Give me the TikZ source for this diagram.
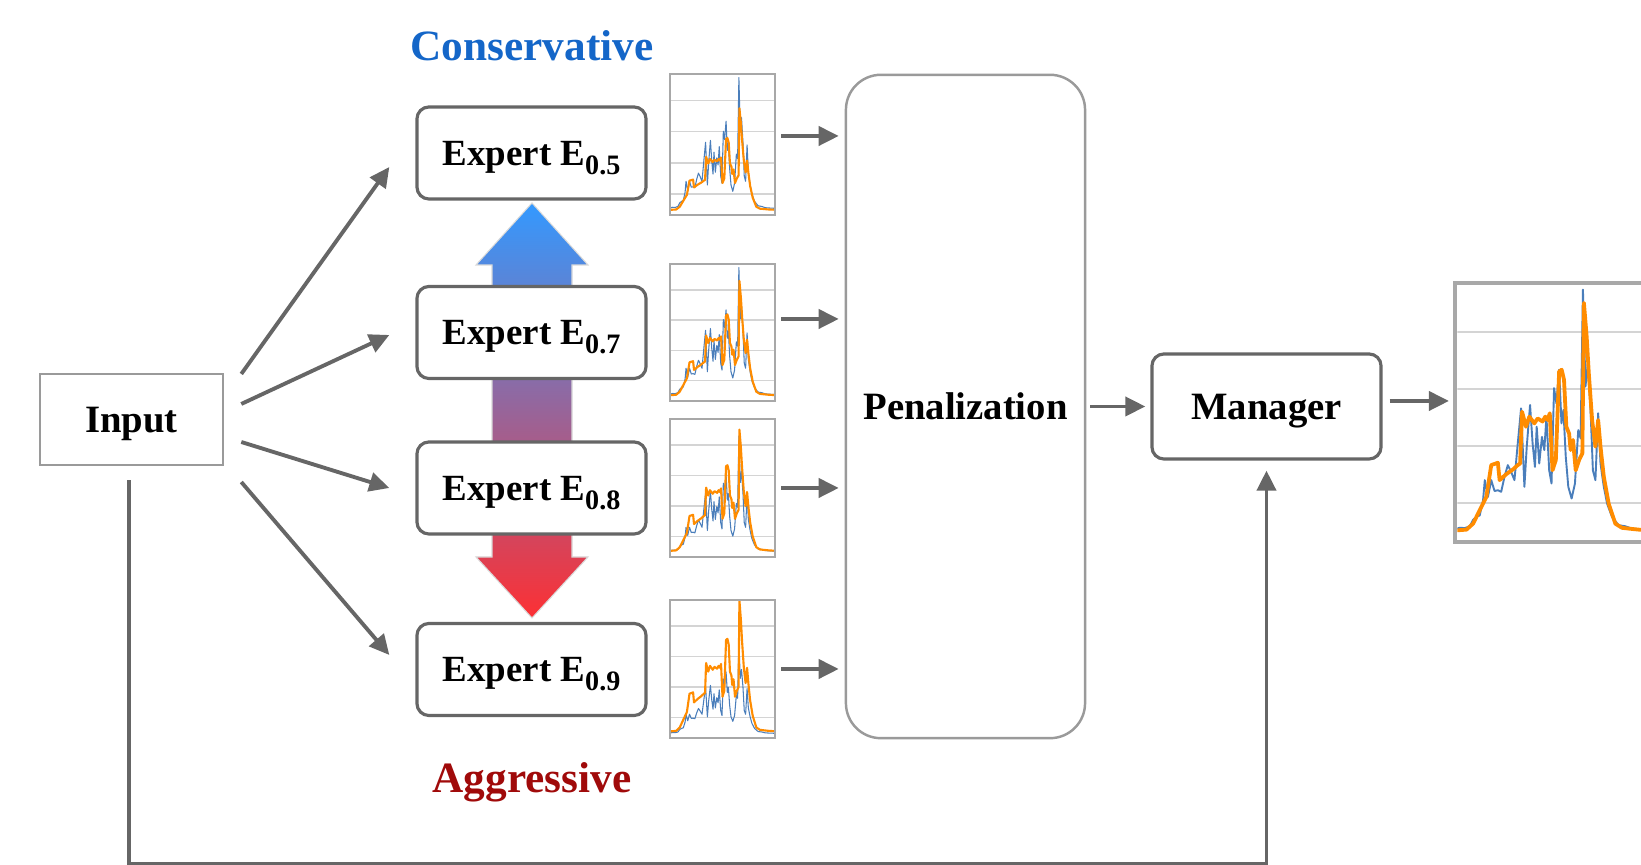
\documentclass[tikz,border=0pt]{standalone}
\usepackage{fontspec}
\setmainfont{Liberation Serif}
\usetikzlibrary{arrows.meta}

\definecolor{linegray}{HTML}{666666}
\definecolor{boxgray}{HTML}{9A9A9A}
\definecolor{gridgray}{HTML}{D4D4D4}
\definecolor{framegray}{HTML}{A8A8A8}
\definecolor{seriesblue}{HTML}{4A7EBB}
\definecolor{seriesorange}{HTML}{FF8C00}
\definecolor{consblue}{HTML}{1466C8}
\definecolor{aggred}{HTML}{A00A0A}

\newcommand{\esub}[1]{\raisebox{-2.6pt}{\fontsize{8}{9}\selectfont#1}}

% load curve of the test day, normalised to the chart frame
\newcommand{\bluepts}{0.008/0.052, 0.025/0.055, 0.051/0.054, 0.076/0.061, 0.093/0.086,
  0.110/0.097, 0.127/0.103, 0.144/0.161, 0.153/0.239, 0.169/0.174, 0.186/0.239,
  0.203/0.197, 0.220/0.200, 0.237/0.194, 0.254/0.252, 0.271/0.297, 0.288/0.271,
  0.305/0.239, 0.322/0.381, 0.339/0.516, 0.356/0.213, 0.368/0.368, 0.385/0.529,
  0.398/0.381, 0.410/0.290, 0.419/0.445, 0.432/0.303, 0.446/0.406, 0.458/0.355,
  0.469/0.484, 0.483/0.277, 0.495/0.226, 0.508/0.594, 0.520/0.535, 0.534/0.665,
  0.546/0.458, 0.556/0.510, 0.568/0.329, 0.581/0.213, 0.598/0.168, 0.615/0.226,
  0.632/0.432, 0.644/0.400, 0.656/0.974, 0.669/0.600, 0.681/0.690, 0.695/0.510,
  0.707/0.277, 0.720/0.239, 0.734/0.497, 0.746/0.303, 0.763/0.213, 0.780/0.148,
  0.805/0.097, 0.839/0.065, 0.873/0.061, 0.907/0.052, 0.941/0.050, 0.990/0.048}
% forecast of the expert
\newcommand{\orangepts}{0.008/0.045, 0.059/0.048, 0.093/0.071, 0.127/0.123, 0.161/0.174,
  0.186/0.297, 0.220/0.306, 0.229/0.239, 0.263/0.262, 0.297/0.280, 0.322/0.297,
  0.334/0.303, 0.344/0.503, 0.364/0.445, 0.381/0.484, 0.407/0.458, 0.424/0.477,
  0.449/0.465, 0.463/0.484, 0.475/0.471, 0.486/0.497, 0.500/0.277, 0.517/0.316,
  0.534/0.658, 0.547/0.665, 0.559/0.626, 0.571/0.445, 0.585/0.419, 0.593/0.355,
  0.605/0.394, 0.619/0.277, 0.636/0.316, 0.653/0.342, 0.661/0.923, 0.675/0.794,
  0.686/0.652, 0.703/0.471, 0.720/0.368, 0.734/0.471, 0.746/0.368, 0.763/0.252,
  0.788/0.148, 0.822/0.071, 0.856/0.055, 0.890/0.052, 0.941/0.048, 0.990/0.046}

% #1 node, #2 width, #3 height, #4 blue scale, #5 orange scale, #6 line factor
\newcommand{\plotchart}[6]{%
  \begin{scope}[shift={(#1.south west)}, x=#2, y=#3]
    \clip (0.012,0.01) rectangle (0.988,0.99);
    \foreach \g in {0.15,0.37,0.59,0.81}
      \draw[gridgray, line width=0.4pt*#6] (0,\g) -- (1,\g);
    \draw[seriesblue, line width=0.3pt*#6, line join=round, yscale=#4]
      (0,0.05) \foreach \u/\v in \bluepts {-- (\u,\v)};
    \draw[seriesorange, line width=0.6pt*#6, line join=round, yscale=#5]
      (0,0.045) \foreach \u/\v in \orangepts {-- (\u,\v)};
  \end{scope}}

\begin{document}
\begin{tikzpicture}[
  x=0.01cm, y=-0.01cm,
  expert/.style={draw=linegray, line width=0.9pt, fill=white, rounded corners=0.12cm,
    minimum width=2.29cm, minimum height=0.92cm, text height=6.95pt, text depth=0pt,
    font=\fontsize{10.5}{12}\selectfont\bfseries},
  inbox/.style={draw=boxgray, line width=0.7pt, minimum width=1.83cm, minimum height=0.91cm,
    text height=7.3pt, text depth=0pt, font=\fontsize{11}{13}\selectfont\bfseries},
  penbox/.style={draw=boxgray, line width=0.7pt, rounded corners=0.35cm,
    minimum width=2.39cm, minimum height=6.63cm, text height=7.3pt, text depth=0pt,
    font=\fontsize{11}{13}\selectfont\bfseries},
  manbox/.style={draw=linegray, line width=0.9pt, rounded corners=0.12cm,
    minimum width=2.29cm, minimum height=1.05cm, text height=7.3pt, text depth=0pt,
    font=\fontsize{11}{13}\selectfont\bfseries},
  chart/.style={draw=framegray, line width=0.8pt, fill=white, inner sep=0pt, outer sep=0pt},
  lbl/.style={font=\fontsize{12.3}{14}\selectfont\bfseries},
  arr/.style={draw=linegray, line width=1.1pt, -{Triangle[length=0.2cm,width=0.19cm]}}
]
  \useasboundingbox (0,0) rectangle (1641,865);

  % conservative / aggressive scale
  \shade[top color={rgb,255:red,51;green,153;blue,255}, bottom color={rgb,255:red,252;green,48;blue,52},
    draw=black!15, line width=0.3pt]
    (532,203) -- (588,265) -- (572,265) -- (572,557) -- (588,557) -- (532,618)
    -- (476,557) -- (492,557) -- (492,265) -- (476,265) -- cycle;

  \node[lbl, text=consblue] (cons) at (532,46) {Conservative};
  \node[lbl, text=aggred] (aggr) at (532,782) {Aggressive};

  \node[inbox] (input) at (131.5,419.5) {Input};

  \node[expert] (e5) at (531.5,153) {Expert E\esub{0.5}};
  \node[expert] (e7) at (531.5,332.5) {Expert E\esub{0.7}};
  \node[expert] (e8) at (531.5,488) {Expert E\esub{0.8}};
  \node[expert] (e9) at (531.5,669.5) {Expert E\esub{0.9}};

  \node[chart, minimum width=1.05cm, minimum height=1.41cm] (c5) at (722.5,144.5) {};
  \node[chart, minimum width=1.05cm, minimum height=1.37cm] (c7) at (722.5,332.5) {};
  \node[chart, minimum width=1.05cm, minimum height=1.38cm] (c8) at (722.5,488) {};
  \node[chart, minimum width=1.05cm, minimum height=1.38cm] (c9) at (722.5,669) {};
  \plotchart{c5}{1.05cm}{1.41cm}{1.0}{0.82}{1}
  \plotchart{c7}{1.05cm}{1.37cm}{1.0}{0.95}{1}
  \plotchart{c8}{1.05cm}{1.38cm}{0.9}{1.0}{1}
  \plotchart{c9}{1.05cm}{1.38cm}{0.72}{1.08}{1}

  \node[penbox] (pen) at (965.5,406.5) {Penalization};
  \node[manbox] (man) at (1266.5,406.5) {Manager};

  \node[chart, line width=1.1pt, minimum width=1.95cm, minimum height=2.59cm] (big) at (1552.5,412.5) {};
  \plotchart{big}{1.95cm}{2.59cm}{1.0}{1.0}{1.8}

  % input to the experts
  \draw[arr] ([xshift=0.17cm,yshift=0.455cm]input.east) -- ([xshift=-0.26cm,yshift=-0.14cm]e5.west);
  \draw[arr] ([xshift=0.17cm,yshift=0.155cm]input.east) -- ([xshift=-0.26cm,yshift=-0.025cm]e7.west);
  \draw[arr] ([xshift=0.17cm,yshift=-0.225cm]input.east) -- ([xshift=-0.26cm]e8.west);
  \draw[arr] ([xshift=0.17cm,yshift=-0.625cm]input.east) -- ([xshift=-0.26cm,yshift=0.145cm]e9.west);

  % forecasts to penalization
  \foreach \n/\dy in {5/0.085, 7/0.135, 8/0, 9/0} {
    \coordinate (o\n) at ([xshift=0.06cm,yshift=\dy cm]c\n.east);
    \draw[arr, shorten >=0.06cm] (o\n) -- (o\n -| pen.west);
  }

  \draw[arr] ([xshift=0.04cm]pen.east) -- ([xshift=-0.05cm]man.west);
  \coordinate (mo) at ([xshift=0.07cm,yshift=0.055cm]man.east);
  \draw[arr, shorten >=0.06cm] (mo) -- (mo -| big.west);

  % input also goes to the manager
  \draw[arr] ([xshift=-0.025cm,yshift=-0.14cm]input.south) -- ++(0,384) -| ([yshift=-0.1cm]man.south);
\end{tikzpicture}
\end{document}
